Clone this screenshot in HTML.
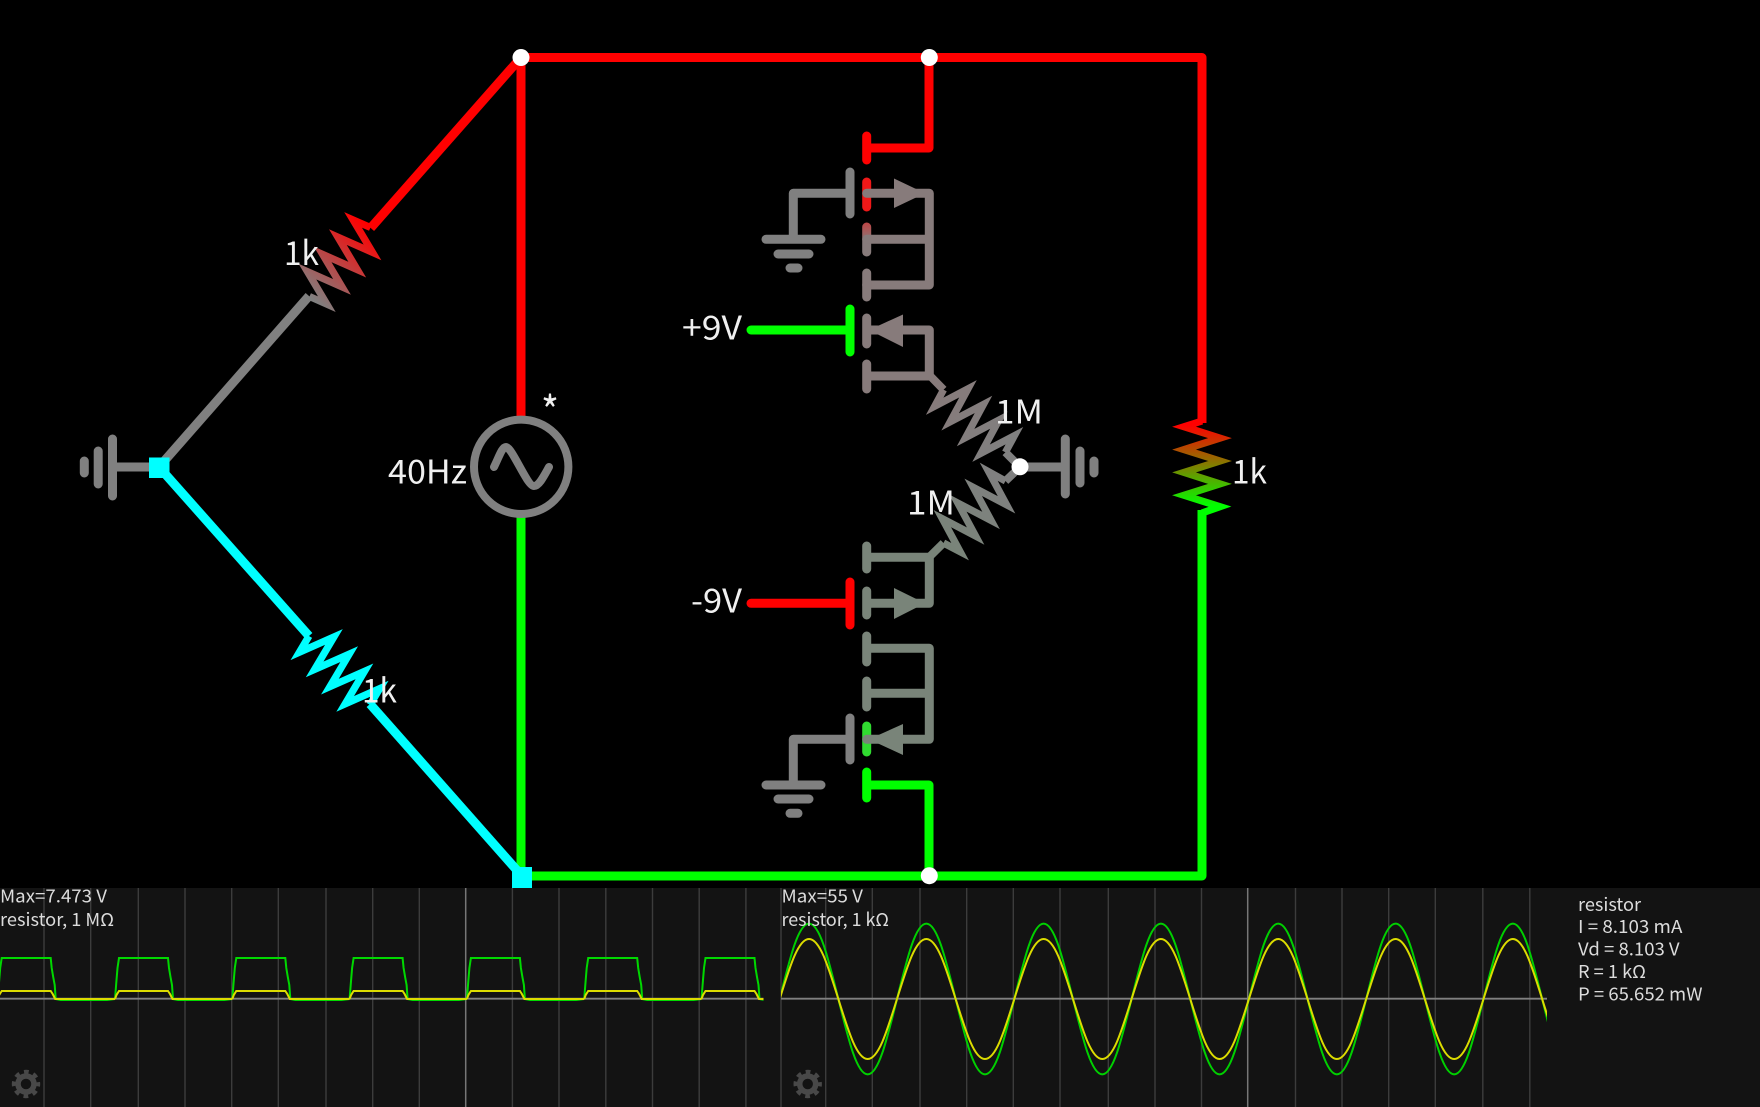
<!DOCTYPE html>
<html><head><meta charset="utf-8"><title>Circuit</title>
<style>html,body{margin:0;padding:0;background:#000;width:1760px;height:1107px;overflow:hidden}svg{display:block}
text{font-family:"Noto Sans CJK JP","Liberation Sans",sans-serif;fill:#f0f0f0}
.s text{fill:#dcdcdc;font-size:18px}
</style></head><body>
<svg width="1760" height="1107" viewBox="0 0 1760 1107" xmlns="http://www.w3.org/2000/svg">
<defs>
<linearGradient id="g1" gradientUnits="userSpaceOnUse" x1="309.5" y1="296.5" x2="370.5" y2="227.5"><stop offset="0" stop-color="#808080"/><stop offset="1" stop-color="#ff0000"/></linearGradient>
<linearGradient id="g2" gradientUnits="userSpaceOnUse" x1="0" y1="425" x2="0" y2="506"><stop offset="0" stop-color="#ff0000"/><stop offset="1" stop-color="#00ff00"/></linearGradient>
<linearGradient id="g3" gradientUnits="userSpaceOnUse" x1="943.6" y1="389.7" x2="1005.4" y2="452.3"><stop offset="0" stop-color="#877b7b"/><stop offset="1" stop-color="#808080"/></linearGradient>
<linearGradient id="g4" gradientUnits="userSpaceOnUse" x1="943.5" y1="543" x2="1005.5" y2="481"><stop offset="0" stop-color="#798479"/><stop offset="1" stop-color="#808080"/></linearGradient>
<linearGradient id="g5" gradientUnits="userSpaceOnUse" x1="0" y1="222" x2="0" y2="242"><stop offset="0" stop-color="#c04444"/><stop offset="1" stop-color="#877b7b"/></linearGradient>
<clipPath id="c1"><rect x="0" y="880" width="763.5" height="227"/></clipPath>
<clipPath id="c2"><rect x="781" y="880" width="766" height="227"/></clipPath>
<path id="gp" d="M0,999L1.5,980L2.5,968L4,958L53,958L54,968L55.5,977L57,985L58,999L63,1000L109.3,1000L117.3,999" fill="none" stroke="#00d800" stroke-width="2"/>
<path id="yp" d="M0,999L1.5,995L4,991L53,991L55,994L57.5,999L117.3,999" fill="none" stroke="#dcdc00" stroke-width="2"/>
<path id="gs" d="M0,0c10.66,-43.04 18.67,-75.4 29.325,-75.4c10.66,0 18.67,32.36 29.325,75.4c10.66,43.04 18.67,75.4 29.325,75.4c10.66,0 18.67,-32.36 29.325,-75.4" fill="none" stroke="#00d000" stroke-width="2"/>
<path id="ys" d="M0,0c10.66,-34.25 18.67,-60 29.325,-60c10.66,0 18.67,25.75 29.325,60c10.66,34.25 18.67,60 29.325,60c10.66,0 18.67,-25.75 29.325,-60" fill="none" stroke="#dcdc00" stroke-width="2"/>
<g id="gear" fill="none" stroke="#484848"><circle r="8" stroke-width="5.5"/><circle r="12" stroke-width="4.4" stroke-dasharray="4.7 4.72" stroke-dashoffset="2.35"/></g>
</defs>

<!-- scopes -->
<rect x="0" y="888" width="1760" height="219" fill="#131313"/>
<g stroke="#3c3c3c" stroke-width="1.4">
<path d="M44,888V1107M90.7,888V1107M138.3,888V1107M185,888V1107M231.7,888V1107M278.3,888V1107M326,888V1107M372.7,888V1107M419.3,888V1107M512.4,888V1107M559,888V1107M605.8,888V1107M652.5,888V1107M699.2,888V1107M745.9,888V1107"/>
<path d="M781,888V1107M825.7,888V1107M872.3,888V1107M920,888V1107M966.7,888V1107M1013.3,888V1107M1060,888V1107M1108.3,888V1107M1155,888V1107M1201.5,888V1107M1295.5,888V1107M1342,888V1107M1388.7,888V1107M1435.3,888V1107M1482.8,888V1107M1529.8,888V1107"/>
</g>
<path d="M465.7,888V1107M1247.7,888V1107" stroke="#777" stroke-width="1.5"/>
<path d="M0,998.7H763.5M781,998.7H1547" stroke="#808080" stroke-width="1.8"/>
<g clip-path="url(#c1)">
<use href="#gp" x="-2.3"/><use href="#gp" x="115"/><use href="#gp" x="232.3"/><use href="#gp" x="349.6"/><use href="#gp" x="466.9"/><use href="#gp" x="584.2"/><use href="#gp" x="701.5"/>
<use href="#yp" x="-2.3"/><use href="#yp" x="115"/><use href="#yp" x="232.3"/><use href="#yp" x="349.6"/><use href="#yp" x="466.9"/><use href="#yp" x="584.2"/><use href="#yp" x="701.5"/>
</g>
<g clip-path="url(#c2)">
<use href="#gs" x="779.7" y="999"/><use href="#gs" x="897" y="999"/><use href="#gs" x="1014.3" y="999"/><use href="#gs" x="1131.6" y="999"/><use href="#gs" x="1248.9" y="999"/><use href="#gs" x="1366.2" y="999"/><use href="#gs" x="1483.5" y="999"/>
<use href="#ys" x="779.7" y="999"/><use href="#ys" x="897" y="999"/><use href="#ys" x="1014.3" y="999"/><use href="#ys" x="1131.6" y="999"/><use href="#ys" x="1248.9" y="999"/><use href="#ys" x="1366.2" y="999"/><use href="#ys" x="1483.5" y="999"/>
</g>
<use href="#gear" x="26" y="1084"/><use href="#gear" x="807.7" y="1084"/>
<g class="s">
<text x="0" y="902.7" textLength="107" lengthAdjust="spacingAndGlyphs">Max=7.473 V</text>
<text x="0" y="926" textLength="114" lengthAdjust="spacingAndGlyphs">resistor, 1 MΩ</text>
<text x="781.5" y="902.7" textLength="81.5" lengthAdjust="spacingAndGlyphs">Max=55 V</text>
<text x="781.5" y="926" textLength="107.5" lengthAdjust="spacingAndGlyphs">resistor, 1 kΩ</text>
<text x="1578" y="911" textLength="63" lengthAdjust="spacingAndGlyphs">resistor</text>
<text x="1578" y="933" textLength="104.4" lengthAdjust="spacingAndGlyphs">I = 8.103 mA</text>
<text x="1578" y="955.5" textLength="101.6" lengthAdjust="spacingAndGlyphs">Vd = 8.103 V</text>
<text x="1578" y="978" textLength="68" lengthAdjust="spacingAndGlyphs">R = 1 kΩ</text>
<text x="1578" y="1000.5" textLength="124.5" lengthAdjust="spacingAndGlyphs">P = 65.652 mW</text>
</g>

<!-- main wires -->
<g fill="none" stroke-width="9" stroke-linejoin="round">
<path d="M521,57.5H1202V423" stroke="#f00" />
<path d="M521,57.5V420" stroke="#f00"/>
<path d="M521,57.5L370.7,228" stroke="#f00"/>
<path d="M929,57.5V148H866.7" stroke="#f00"/>
<path d="M1202,510V876H522" stroke="#0f0"/>
<path d="M521,510V876" stroke="#0f0"/>
<path d="M929,876V785H866.7" stroke="#0f0"/>
<path d="M159,467L309,296" stroke="#808080"/>
<path d="M159,467L309,636" stroke="#0ff"/>
<path d="M370,704L522,876" stroke="#0ff"/>
</g>

<!-- resistors -->
<g fill="none" stroke-width="7.2" stroke-linejoin="miter" stroke-miterlimit="30">
<path stroke="url(#g1)" d="M309.5,296.5L326.81,304.11L307.42,271.64L342.03,286.86L322.65,254.39L357.26,269.61L337.87,237.14L372.48,252.36L353.1,219.89L370.5,227.5"/>
<path stroke="#0ff" d="M309,636L299.36,652.25L333.91,636.95L314.63,669.46L349.19,654.16L329.9,686.66L364.46,671.36L345.17,703.86L379.73,688.57L370,705"/>
<path stroke="url(#g2)" d="M1202,421L1184,426.7L1220,438.1L1184,449.6L1220,461L1184,472.4L1220,483.9L1184,495.3L1220,506.7L1202,513"/>
<path stroke="url(#g3)" d="M943.6,389.7L934.67,406.26L968,388.78L950.13,421.9L983.47,404.42L965.6,437.54L998.93,420.07L981.06,453.19L1014.4,435.71L1005.4,452.3"/>
<path stroke="url(#g4)" d="M943.5,543L960.17,551.74L942.3,518.62L975.63,536.1L957.77,502.98L991.1,520.46L973.23,487.33L1006.56,504.81L988.7,471.69L1005.5,481"/>
</g>
<g fill="none" stroke-width="8">
<path d="M929.3,375L943.6,389.7" stroke="#877b7b"/>
<path d="M1005.4,452.3L1020,467" stroke="#808080"/>
<path d="M929.3,557L943.5,543" stroke="#798479"/>
<path d="M1005.5,481L1020,467" stroke="#808080"/>
</g>

<!-- grounds -->
<g fill="none" stroke="#808080" stroke-width="9" stroke-linecap="round" stroke-linejoin="round">
<path d="M159,467H112.5M112.5,439V496M98.2,451V484M84.3,461V473"/>
<path d="M1020,467H1065.3M1065.3,439V494M1080,451V483M1094,461V473"/>
<path d="M850,193.3H793.3V239.3M766,239.3H821M778,254H809M790,268H798"/>
<path d="M850,739.3H793.3V785M766,785H821M778,799H809M790,813.3H798"/>
<path d="M850,172V214M850,718V760"/>
</g>

<!-- gates -->
<g fill="none" stroke-width="9" stroke-linecap="round">
<path d="M850,309V352M850,330H751" stroke="#0f0"/>
<path d="M850,582V625M850,603.3H751" stroke="#f00"/>
</g>

<!-- mosfet segments -->
<g fill="none" stroke-width="9" stroke-linecap="round">
<path d="M866.7,136V160" stroke="#f00"/>
<path d="M866.7,182V207" stroke="#f01818"/>
<path d="M866.7,227V252" stroke="url(#g5)"/>
<path d="M866.7,726V752" stroke="#30dc30"/>
<path d="M866.7,772V798" stroke="#0f0"/>
</g>
<g fill="none" stroke="#877b7b" stroke-width="9" stroke-linecap="round" stroke-linejoin="round">
<path d="M866.7,193.3H929.3V285H866.7M866.7,239.3H929.3"/>
<path d="M866.7,273V297"/>
<path d="M866.7,318V344M866.7,330H929.3V376H866.7M866.7,364V389"/>
</g>
<path d="M925,193.3L894,178.5V208Z" fill="#877b7b"/>
<path d="M869,330L903,314.5V347Z" fill="#877b7b"/>
<g fill="none" stroke="#798479" stroke-width="9" stroke-linecap="round" stroke-linejoin="round">
<path d="M866.7,546V569M866.7,557.3H929.3V603.3H866.7M866.7,591V615"/>
<path d="M866.7,636V662M866.7,648.3H929.3V739.3H866.7M866.7,693.3H929.3M866.7,681V707"/>
</g>
<path d="M925,603.3L894,588V619Z" fill="#798479"/>
<path d="M869,739.3L903,724V755Z" fill="#798479"/>

<!-- source -->
<circle cx="521.2" cy="466.8" r="47.2" fill="#000" stroke="#808080" stroke-width="8"/>
<path d="M494,467C499,457 502,447 506,447C512,447 527,486 534,486C539,486 544,476 549,467" fill="none" stroke="#808080" stroke-width="8" stroke-linecap="round" stroke-linejoin="round"/>

<!-- squares and dots -->
<rect x="149" y="457.5" width="20.5" height="20.5" fill="#0ff"/>
<rect x="512" y="867" width="20" height="21" fill="#0ff"/>
<g fill="#fff"><circle cx="521" cy="57.5" r="8.5"/><circle cx="929.3" cy="57.5" r="8.5"/><circle cx="929.3" cy="875.7" r="8.5"/><circle cx="1020" cy="466.8" r="8.5"/></g>

<!-- labels -->
<g font-size="33">
<text x="284" y="265" textLength="35" lengthAdjust="spacingAndGlyphs">1k</text>
<text x="362" y="702.5" textLength="35" lengthAdjust="spacingAndGlyphs">1k</text>
<text x="1232" y="483.5" textLength="35" lengthAdjust="spacingAndGlyphs">1k</text>
<text x="388" y="483.5" textLength="79" lengthAdjust="spacingAndGlyphs">40Hz</text>
<text x="541" y="426" font-size="41" textLength="18" lengthAdjust="spacingAndGlyphs">*</text>
<text x="682" y="339.5" textLength="60" lengthAdjust="spacingAndGlyphs">+9V</text>
<text x="691" y="612.5" textLength="51" lengthAdjust="spacingAndGlyphs">-9V</text>
<text x="995" y="423.5" textLength="48" lengthAdjust="spacingAndGlyphs">1M</text>
<text x="907" y="514.5" textLength="48" lengthAdjust="spacingAndGlyphs">1M</text>
</g>
</svg>
</body></html>
